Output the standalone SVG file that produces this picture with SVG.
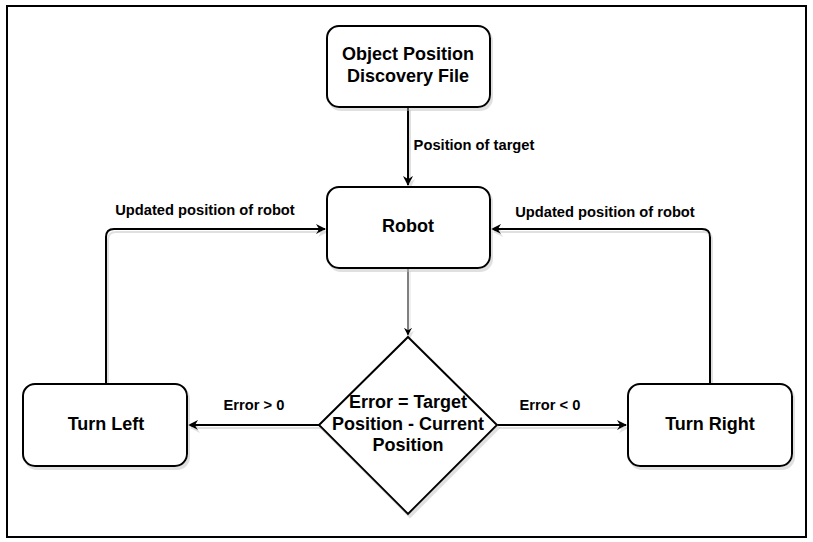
<svg xmlns="http://www.w3.org/2000/svg" width="813" height="542" viewBox="0 0 813 542">
<defs>
<filter id="sh" x="-10%" y="-10%" width="130%" height="130%">
<feOffset in="SourceAlpha" dx="2" dy="3" result="o"/>
<feColorMatrix in="o" type="matrix" values="0 0 0 0 0.5  0 0 0 0 0.5  0 0 0 0 0.5  0 0 0 0.45 0" result="c"/>
<feMerge><feMergeNode in="c"/><feMergeNode in="SourceGraphic"/></feMerge>
</filter>
<marker id="ah" viewBox="0 0 10 10" refX="9" refY="5" markerWidth="10" markerHeight="10" markerUnits="userSpaceOnUse" orient="auto">
<path d="M0,0 L10,5 L0,10 L3,5 Z" fill="#000"/>
</marker>
<marker id="ah2" viewBox="0 0 10 10" refX="9" refY="5" markerWidth="8" markerHeight="8" markerUnits="userSpaceOnUse" orient="auto">
<path d="M0,0 L10,5 L0,10 L3,5 Z" fill="#000"/>
</marker>
</defs>
<style>
.n{fill:#fff;stroke:#000;stroke-width:2}
.t{font-family:"Liberation Sans",Arial,sans-serif;font-weight:bold;font-size:18px;text-anchor:middle;fill:#000}
.l{font-family:"Liberation Sans",Arial,sans-serif;font-weight:bold;font-size:14.7px;text-anchor:middle;fill:#000}
.c{fill:none;stroke:#000;stroke-width:2}
</style>
<rect x="0" y="0" width="813" height="542" fill="#fff"/>
<rect x="7" y="6" width="799" height="531" fill="none" stroke="#000" stroke-width="2"/>
<g id="connectors" filter="url(#sh)">
<path class="c" d="M408,107 L408,185" marker-end="url(#ah)"/>
<path d="M408,268 L408,335" fill="none" stroke="#000" stroke-width="1" marker-end="url(#ah2)"/>
<path class="c" d="M106,384 L106,237 Q106,229 114,229 L325,229" marker-end="url(#ah)"/>
<path class="c" d="M710,384 L710,237 Q710,229 702,229 L492,229" marker-end="url(#ah)"/>
<path class="c" d="M319,425 L189,425" marker-end="url(#ah)"/>
<path class="c" d="M497,425 L626,425" marker-end="url(#ah)"/>
</g>
<g id="labels">
<text class="l" x="474" y="150">Position of target</text>
<text class="l" x="205" y="215">Updated position of robot</text>
<text class="l" x="605" y="217">Updated position of robot</text>
<text class="l" x="254" y="410">Error &gt; 0</text>
<text class="l" x="550" y="410">Error &lt; 0</text>
</g>
<g id="object-file" filter="url(#sh)">
<rect class="n" x="327" y="26" width="163" height="81" rx="12"/>
</g>
<text class="t" x="408" y="60">Object Position</text>
<text class="t" x="408" y="82">Discovery File</text>
<g id="robot" filter="url(#sh)">
<rect class="n" x="327" y="187" width="163" height="81" rx="12"/>
</g>
<text class="t" x="408" y="232">Robot</text>
<g id="decision" filter="url(#sh)">
<path class="n" d="M408,337 L497,425 L408,514 L319,425 Z"/>
</g>
<text class="t" x="408" y="408">Error = Target</text>
<text class="t" x="408" y="430">Position - Current</text>
<text class="t" x="408" y="451">Position</text>
<g id="turn-left" filter="url(#sh)">
<rect class="n" x="23" y="384" width="164" height="82" rx="12"/>
</g>
<text class="t" x="106" y="430">Turn Left</text>
<g id="turn-right" filter="url(#sh)">
<rect class="n" x="628" y="384" width="164" height="82" rx="12"/>
</g>
<text class="t" x="710" y="430">Turn Right</text>
</svg>
